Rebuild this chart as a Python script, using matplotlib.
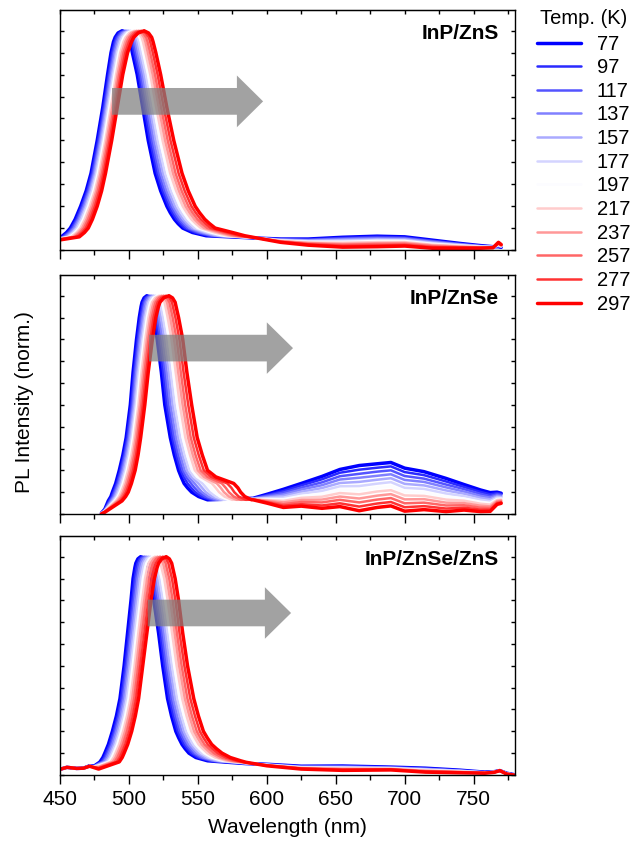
import matplotlib.pyplot as plt
from matplotlib.patches import FancyArrow
from matplotlib.ticker import MultipleLocator

plt.rcParams['font.family'] = 'Liberation Sans'

temps = [77, 97, 117, 137, 157, 177, 197, 217, 237, 257, 277, 297]

# normalised intensity at which the edge wavelengths below were taken
rise_levels = [0.06, 0.08, 0.1, 0.14, 0.2, 0.27, 0.35, 0.5, 0.65, 0.8, 0.9, 0.95, 0.97, 0.99]
fall_levels = [0.99, 0.97, 0.95, 0.9, 0.8, 0.65, 0.5, 0.35, 0.27, 0.2, 0.17, 0.14, 0.12, 0.1, 0.08, 0.065]

# ---------- InP/ZnS ----------
zns_start_nm = [450]
zns_start = [[0.058, 0.056, 0.055, 0.054, 0.053, 0.052, 0.051, 0.05, 0.049, 0.048, 0.047, 0.046]]
# one row per temperature: rising edge, peak, falling edge (nm)
zns_edges = [
    [451, 454.8, 457.5, 461, 465, 469, 472.5, 477, 481, 484.5, 487, 488.8, 490, 492.1, 495, 497.9, 500, 501, 502.5, 506, 510, 514, 519, 523, 527.5, 530, 533, 535.7, 539, 546, 556],
    [451.9, 455.7, 458.4, 461.9, 465.8, 469.8, 473.2, 477.7, 481.7, 485.3, 487.8, 489.7, 490.9, 493.1, 496.1, 499.1, 501.2, 502.2, 503.7, 507.2, 511.2, 515.3, 520.4, 524.4, 528.9, 531.5, 534.5, 537.3, 540.6, 548, 558],
    [452.8, 456.6, 459.3, 462.8, 466.7, 470.6, 474, 478.5, 482.5, 486, 488.7, 490.6, 491.9, 494.1, 497.2, 500.2, 502.3, 503.3, 504.9, 508.4, 512.5, 516.6, 521.7, 525.8, 530.4, 533, 536.1, 538.9, 542.3, 550.1, 559.9],
    [453.7, 457.5, 460.2, 463.6, 467.5, 471.4, 474.7, 479.2, 483.2, 486.8, 489.5, 491.5, 492.8, 495.2, 498.4, 501.4, 503.5, 504.5, 506.1, 509.6, 513.7, 517.9, 523.1, 527.2, 531.8, 534.5, 537.6, 540.5, 543.9, 552.1, 561.9],
    [454.8, 458.6, 461.3, 464.6, 468.5, 472.2, 475.5, 480, 484, 487.7, 490.5, 492.6, 493.9, 496.3, 499.6, 502.6, 504.8, 505.8, 507.4, 510.9, 515.1, 519.4, 524.7, 528.8, 533.4, 536.1, 539.4, 542.3, 545.8, 554.4, 564.1],
    [455.8, 459.6, 462.3, 465.6, 469.4, 473.1, 476.4, 480.9, 484.9, 488.6, 491.4, 493.6, 495, 497.5, 500.9, 503.9, 506.1, 507.1, 508.8, 512.3, 516.5, 520.8, 526.2, 530.4, 535.1, 537.8, 541.1, 544.1, 547.7, 556.7, 566.4],
    [457, 460.8, 463.5, 466.8, 470.5, 474.2, 477.3, 481.8, 485.8, 489.6, 492.5, 494.8, 496.2, 498.8, 502.4, 505.4, 507.6, 508.6, 510.3, 513.8, 518.1, 522.5, 528, 532.2, 536.9, 539.8, 543.1, 546.2, 549.8, 559.3, 568.9],
    [458.3, 462.1, 464.8, 468, 471.7, 475.3, 478.4, 482.9, 486.9, 490.7, 493.7, 496.1, 497.6, 500.3, 504, 507, 509.2, 510.2, 512, 515.5, 519.8, 524.4, 529.9, 534.2, 539, 541.9, 545.3, 548.5, 552.2, 562.2, 571.7],
    [459.6, 463.4, 466.1, 469.3, 472.9, 476.4, 479.4, 483.9, 487.9, 491.8, 494.9, 497.4, 498.9, 501.7, 505.6, 508.7, 510.9, 511.9, 513.7, 517.2, 521.6, 526.2, 531.9, 536.2, 541, 544, 547.5, 550.7, 554.5, 565.1, 574.5],
    [460.9, 464.7, 467.4, 470.5, 474.1, 477.5, 480.5, 485, 489, 492.9, 496.1, 498.7, 500.3, 503.2, 507.2, 510.3, 512.5, 513.5, 515.4, 518.9, 523.3, 528.1, 533.8, 538.2, 543.1, 546.1, 549.7, 553, 556.9, 568, 577.3],
    [462.3, 466.1, 468.8, 471.9, 475.4, 478.7, 481.6, 486.1, 490.1, 494.1, 497.4, 500.1, 501.7, 504.7, 508.9, 512.1, 514.4, 515.4, 517.3, 520.8, 525.2, 530.1, 536, 540.4, 545.3, 548.4, 552.1, 555.5, 559.4, 571.2, 580.4],
    [464, 467.8, 470.5, 473.5, 477, 480.2, 483, 487.5, 491.5, 495.5, 499, 501.9, 503.5, 506.7, 511, 514.2, 516.5, 517.5, 519.5, 523, 527.5, 532.5, 538.5, 543, 548, 551.2, 555, 558.5, 562.5, 575, 584],
]
zns_tail_nm = [590, 610, 630, 655, 680, 700, 720, 740, 755, 764, 768, 770]
# one row per tail wavelength, 77 K ... 297 K
zns_tail = [
    [0.055, 0.055, 0.055, 0.056, 0.056, 0.056, 0.056, 0.057, 0.057, 0.057, 0.058, 0.058],
    [0.05, 0.049, 0.048, 0.047, 0.046, 0.044, 0.043, 0.042, 0.04, 0.039, 0.037, 0.035],
    [0.05, 0.048, 0.046, 0.044, 0.042, 0.04, 0.037, 0.034, 0.032, 0.029, 0.026, 0.022],
    [0.058, 0.055, 0.052, 0.049, 0.045, 0.041, 0.037, 0.033, 0.028, 0.024, 0.019, 0.013],
    [0.063, 0.06, 0.056, 0.053, 0.049, 0.045, 0.041, 0.036, 0.031, 0.027, 0.021, 0.015],
    [0.06, 0.057, 0.054, 0.051, 0.048, 0.044, 0.041, 0.036, 0.032, 0.028, 0.023, 0.018],
    [0.045, 0.042, 0.04, 0.037, 0.034, 0.031, 0.028, 0.024, 0.021, 0.017, 0.013, 0.008],
    [0.03, 0.028, 0.027, 0.025, 0.024, 0.022, 0.02, 0.018, 0.015, 0.013, 0.011, 0.008],
    [0.02, 0.019, 0.018, 0.017, 0.017, 0.016, 0.014, 0.013, 0.012, 0.011, 0.01, 0.008],
    [0.015, 0.015, 0.014, 0.014, 0.014, 0.013, 0.013, 0.012, 0.012, 0.011, 0.011, 0.01],
    [0.015, 0.016, 0.018, 0.019, 0.021, 0.022, 0.024, 0.026, 0.028, 0.03, 0.032, 0.035],
    [0.012, 0.013, 0.014, 0.015, 0.016, 0.017, 0.018, 0.019, 0.021, 0.022, 0.023, 0.025],
]

# ---------- InP/ZnSe ----------
znse_start_nm = [480, 482.5]
znse_start = [
    [0.004, 0.004, 0.003, 0.003, 0.003, 0.002, 0.002, 0.002, 0.001, 0.001, 0.0, 0.0],
    [0.022, 0.02, 0.019, 0.017, 0.016, 0.014, 0.013, 0.012, 0.011, 0.01, 0.009, 0.008],
]
znse_edges = [
    [485, 486.9, 488, 490.4, 493, 495.6, 498, 501, 503, 505.5, 507.5, 508.8, 509.5, 511, 513, 514.7, 516, 516.6, 518, 520.5, 523.5, 526, 530, 532.9, 536, 537.9, 540, 542.5, 545.5, 550.5, 557],
    [485.7, 487.6, 488.8, 491.2, 493.8, 496.4, 498.7, 501.7, 503.8, 506.3, 508.3, 509.7, 510.4, 512, 514.1, 515.9, 517.2, 517.8, 519.3, 521.8, 524.8, 527.4, 531.4, 534.3, 537.5, 539.7, 542.5, 545.1, 548, 552.8, 559.2],
    [486.4, 488.4, 489.6, 492, 494.6, 497.1, 499.5, 502.5, 504.5, 507.1, 509.2, 510.6, 511.3, 512.9, 515.2, 517.1, 518.5, 519.1, 520.5, 523.1, 526.1, 528.7, 532.7, 535.7, 538.9, 541.4, 545, 547.6, 550.5, 555.2, 561.5],
    [487.1, 489.1, 490.4, 492.8, 495.4, 497.9, 500.2, 503.2, 505.3, 507.9, 510, 511.4, 512.2, 514, 516.4, 518.3, 519.7, 520.3, 521.8, 524.4, 527.4, 530.1, 534.1, 537.2, 540.4, 543.2, 547.6, 550.2, 553, 557.5, 563.7],
    [487.9, 490, 491.3, 493.7, 496.3, 498.8, 501, 504, 506.2, 508.8, 511, 512.5, 513.3, 515.1, 517.6, 519.6, 521.1, 521.7, 523.2, 525.9, 528.9, 531.7, 535.7, 538.8, 542.1, 545.2, 550.4, 553.1, 555.8, 560.2, 566.3],
    [488.7, 490.9, 492.3, 494.6, 497.3, 499.7, 501.9, 504.9, 507.1, 509.8, 511.9, 513.5, 514.3, 516.2, 518.9, 521, 522.5, 523.1, 524.7, 527.3, 530.3, 533.2, 537.2, 540.4, 543.8, 547.2, 553.3, 556, 558.6, 562.9, 568.8],
    [489.6, 491.8, 493.3, 495.6, 498.3, 500.7, 502.8, 505.8, 508.1, 510.8, 513, 514.6, 515.5, 517.6, 520.4, 522.5, 524.1, 524.7, 526.3, 529, 532, 535, 539, 542.2, 545.7, 549.4, 556.6, 559.3, 561.8, 565.9, 571.7],
    [490.6, 492.9, 494.4, 496.8, 499.4, 501.8, 503.9, 506.9, 509.2, 511.9, 514.2, 515.9, 516.8, 519, 522, 524.2, 525.8, 526.5, 528.1, 530.9, 533.9, 536.9, 540.9, 544.3, 547.8, 552, 560.2, 562.9, 565.4, 569.3, 574.9],
    [491.6, 494, 495.6, 497.9, 500.6, 502.9, 504.9, 507.9, 510.3, 513.1, 515.4, 517.1, 518.1, 520.4, 523.6, 525.9, 527.6, 528.2, 529.9, 532.7, 535.7, 538.9, 542.9, 546.3, 549.9, 554.5, 563.8, 566.6, 568.9, 572.6, 578.1],
    [492.6, 495, 496.7, 499.1, 501.7, 504, 506, 509, 511.4, 514.2, 516.6, 518.4, 519.4, 521.8, 525.2, 527.6, 529.3, 530, 531.7, 534.6, 537.6, 540.8, 544.8, 548.3, 552, 557, 567.4, 570.2, 572.5, 576, 581.3],
    [493.7, 496.2, 498, 500.3, 503, 505.2, 507.1, 510.1, 512.6, 515.5, 517.9, 519.8, 520.8, 523.4, 526.9, 529.4, 531.2, 531.9, 533.7, 536.6, 539.6, 543, 547, 550.6, 554.3, 559.7, 571.3, 574.3, 576.4, 579.6, 584.8],
    [495, 497.6, 499.5, 501.8, 504.5, 506.6, 508.5, 511.5, 514, 517, 519.5, 521.4, 522.5, 525.2, 529, 531.6, 533.5, 534.2, 536, 539, 542, 545.5, 549.5, 553.2, 557, 563, 576, 579, 581, 584, 589],
]
znse_tail_nm = [590, 600, 612, 625, 640, 653, 667, 680, 690, 700, 714, 730, 743, 755, 762, 767, 770]
znse_tail = [
    [0.072, 0.071, 0.071, 0.07, 0.069, 0.069, 0.068, 0.068, 0.067, 0.066, 0.066, 0.065],
    [0.09, 0.086, 0.083, 0.079, 0.075, 0.072, 0.068, 0.064, 0.061, 0.057, 0.054, 0.05],
    [0.113, 0.105, 0.098, 0.09, 0.083, 0.075, 0.068, 0.06, 0.053, 0.045, 0.038, 0.03],
    [0.14, 0.131, 0.121, 0.112, 0.102, 0.093, 0.083, 0.074, 0.064, 0.055, 0.045, 0.036],
    [0.172, 0.159, 0.145, 0.132, 0.119, 0.106, 0.092, 0.079, 0.066, 0.053, 0.039, 0.026],
    [0.204, 0.189, 0.173, 0.158, 0.142, 0.127, 0.111, 0.096, 0.08, 0.065, 0.049, 0.034],
    [0.222, 0.203, 0.184, 0.166, 0.147, 0.128, 0.109, 0.09, 0.071, 0.053, 0.034, 0.015],
    [0.23, 0.212, 0.194, 0.175, 0.157, 0.139, 0.121, 0.103, 0.084, 0.066, 0.048, 0.03],
    [0.236, 0.218, 0.2, 0.182, 0.164, 0.146, 0.127, 0.109, 0.091, 0.073, 0.055, 0.037],
    [0.21, 0.192, 0.174, 0.156, 0.138, 0.12, 0.103, 0.085, 0.067, 0.049, 0.031, 0.013],
    [0.194, 0.178, 0.162, 0.147, 0.131, 0.115, 0.099, 0.083, 0.068, 0.052, 0.036, 0.02],
    [0.163, 0.149, 0.135, 0.122, 0.108, 0.094, 0.08, 0.066, 0.052, 0.039, 0.025, 0.011],
    [0.135, 0.124, 0.114, 0.103, 0.093, 0.082, 0.071, 0.061, 0.05, 0.04, 0.029, 0.018],
    [0.11, 0.101, 0.092, 0.083, 0.074, 0.065, 0.056, 0.047, 0.038, 0.029, 0.02, 0.011],
    [0.098, 0.09, 0.082, 0.075, 0.067, 0.059, 0.051, 0.043, 0.035, 0.028, 0.02, 0.012],
    [0.1, 0.095, 0.09, 0.085, 0.08, 0.075, 0.069, 0.064, 0.059, 0.054, 0.049, 0.044],
    [0.095, 0.091, 0.087, 0.082, 0.078, 0.074, 0.07, 0.066, 0.062, 0.057, 0.053, 0.049],
]

# ---------- InP/ZnSe/ZnS ----------
znsezns_start_nm = [450, 455, 462, 467, 471.5, 475, 478]
znsezns_start = [
    [0.026] * 12,
    [0.035] * 12,
    [0.03] * 12,
    [0.031] * 12,
    [0.042, 0.042, 0.042, 0.041, 0.041, 0.041, 0.041, 0.041, 0.041, 0.04, 0.04, 0.04],
    [0.042, 0.041, 0.041, 0.04, 0.039, 0.039, 0.038, 0.037, 0.036, 0.035, 0.034, 0.033],
    [0.055, 0.053, 0.051, 0.049, 0.047, 0.045, 0.042, 0.039, 0.037, 0.034, 0.031, 0.027],
]
znsezns_edges = [
    [479, 481.1, 482.5, 485.1, 488, 490.9, 493.5, 496.5, 499, 501.5, 503, 504.3, 505, 506.5, 508.5, 510.8, 512.5, 513.4, 515.5, 518, 521.5, 524.5, 528, 530.9, 534, 536.1, 538.5, 540.8, 543.5, 548.5, 557],
    [480, 482.1, 483.5, 486.1, 489, 491.9, 494.4, 497.4, 500, 502.5, 504.1, 505.4, 506.2, 507.7, 509.8, 512.1, 513.8, 514.7, 516.8, 519.3, 522.7, 525.8, 529.3, 532.3, 535.4, 537.5, 540, 542.4, 545.2, 550.3, 558.7],
    [481, 483.1, 484.5, 487.1, 490, 492.8, 495.4, 498.4, 501, 503.5, 505.2, 506.6, 507.3, 508.9, 511.1, 513.4, 515.1, 516, 518, 520.5, 524, 527, 530.7, 533.6, 536.8, 539, 541.5, 544, 546.9, 552, 560.4],
    [481.9, 484, 485.4, 488, 490.9, 493.8, 496.3, 499.3, 501.9, 504.5, 506.3, 507.7, 508.5, 510.1, 512.4, 514.7, 516.4, 517.2, 519.3, 521.8, 525.2, 528.3, 532, 535, 538.2, 540.4, 543, 545.6, 548.5, 553.8, 562],
    [483.1, 485.2, 486.6, 489.2, 492.1, 494.9, 497.4, 500.4, 503.1, 505.7, 507.5, 509, 509.8, 511.5, 513.9, 516.2, 517.9, 518.7, 520.7, 523.2, 526.6, 529.7, 533.5, 536.6, 539.8, 542.1, 544.7, 547.4, 550.5, 555.8, 564],
    [484.2, 486.3, 487.7, 490.3, 493.2, 496, 498.5, 501.5, 504.2, 506.9, 508.7, 510.3, 511.1, 512.9, 515.3, 517.6, 519.3, 520.2, 522.2, 524.7, 528, 531.2, 535, 538.1, 541.4, 543.8, 546.5, 549.2, 552.4, 557.8, 565.9],
    [485.4, 487.5, 488.9, 491.5, 494.4, 497.2, 499.7, 502.7, 505.4, 508.2, 510.1, 511.7, 512.6, 514.5, 517, 519.3, 521, 521.8, 523.8, 526.3, 529.6, 532.8, 536.7, 539.9, 543.2, 545.6, 548.4, 551.2, 554.5, 560, 568],
    [486.8, 488.9, 490.3, 492.9, 495.8, 498.6, 501.1, 504.1, 506.8, 509.6, 511.7, 513.3, 514.2, 516.2, 518.9, 521.2, 522.9, 523.6, 525.6, 528.1, 531.3, 534.6, 538.6, 541.8, 545.2, 547.7, 550.5, 553.5, 556.9, 562.5, 570.4],
    [488.2, 490.3, 491.7, 494.3, 497.2, 499.9, 502.4, 505.4, 508.2, 511.1, 513.2, 514.9, 515.9, 517.9, 520.7, 523, 524.7, 525.5, 527.4, 529.9, 533.1, 536.4, 540.5, 543.8, 547.2, 549.8, 552.7, 555.8, 559.3, 565, 572.8],
    [489.6, 491.7, 493.1, 495.7, 498.6, 501.3, 503.8, 506.8, 509.6, 512.5, 514.8, 516.5, 517.5, 519.6, 522.6, 524.9, 526.6, 527.3, 529.2, 531.7, 534.8, 538.2, 542.4, 545.7, 549.2, 551.8, 554.8, 558.1, 561.7, 567.5, 575.2],
    [491.2, 493.3, 494.7, 497.3, 500.2, 502.8, 505.2, 508.2, 511.2, 514.1, 516.5, 518.3, 519.4, 521.6, 524.6, 526.9, 528.6, 529.3, 531.2, 533.7, 536.7, 540.2, 544.5, 547.9, 551.4, 554.1, 557.2, 560.5, 564.4, 570.3, 577.9],
    [493, 495.1, 496.5, 499.1, 502, 504.6, 507, 510, 513, 516, 518.5, 520.4, 521.5, 523.8, 527, 529.3, 531, 531.7, 533.5, 536, 539, 542.5, 547, 550.4, 554, 556.8, 560, 563.5, 567.5, 573.5, 581],
]
znsezns_tail_nm = [585, 600, 625, 655, 690, 715, 740, 758, 765, 769, 774, 779]
znsezns_tail = [
    [0.052, 0.052, 0.053, 0.053, 0.054, 0.054, 0.055, 0.055, 0.056, 0.057, 0.057, 0.058],
    [0.049, 0.049, 0.048, 0.048, 0.047, 0.046, 0.046, 0.045, 0.044, 0.044, 0.043, 0.042],
    [0.04, 0.039, 0.038, 0.037, 0.036, 0.035, 0.034, 0.033, 0.031, 0.03, 0.029, 0.027],
    [0.041, 0.04, 0.038, 0.037, 0.035, 0.034, 0.032, 0.03, 0.028, 0.026, 0.024, 0.021],
    [0.036, 0.035, 0.034, 0.033, 0.032, 0.031, 0.03, 0.029, 0.027, 0.026, 0.025, 0.023],
    [0.031, 0.03, 0.028, 0.027, 0.026, 0.024, 0.023, 0.021, 0.019, 0.017, 0.015, 0.013],
    [0.022, 0.021, 0.02, 0.019, 0.019, 0.018, 0.016, 0.015, 0.014, 0.013, 0.012, 0.01],
    [0.013, 0.013, 0.012, 0.012, 0.012, 0.011, 0.011, 0.01, 0.01, 0.009, 0.009, 0.008],
    [0.015, 0.015, 0.015, 0.014, 0.014, 0.014, 0.014, 0.013, 0.013, 0.013, 0.012, 0.012],
    [0.02] * 12,
    [0.008, 0.008, 0.007, 0.007, 0.007, 0.007, 0.006, 0.006, 0.005, 0.005, 0.005, 0.004],
    [0.002, 0.002, 0.002, 0.002, 0.001, 0.001, 0.001, 0.001, 0.001, 0.0, 0.0, 0.0],
]

samples = ['InP/ZnS', 'InP/ZnSe', 'InP/ZnSe/ZnS']
panels = [
    (zns_start_nm, zns_start, zns_edges, zns_tail_nm, zns_tail),
    (znse_start_nm, znse_start, znse_edges, znse_tail_nm, znse_tail),
    (znsezns_start_nm, znsezns_start, znsezns_edges, znsezns_tail_nm, znsezns_tail),
]
# red-shift arrows: start, tip (nm), centre height
arrows = [(487.7, 597.3, 0.678), (514.6, 619.0, 0.760), (513.6, 617.6, 0.742)]


def spectrum(start_nm, start, edges, tail_nm, tail, i):
    x = start_nm + edges[i] + tail_nm
    y = [c[i] for c in start] + rise_levels + [1.0] + fall_levels + [c[i] for c in tail]
    return x, y


cmap = plt.get_cmap('bwr')
pos = [0.5 * i / 6 if i < 6 else (0.495 if i == 6 else 0.5 + 0.5 * (i - 6) / 5) for i in range(len(temps))]
colors = [cmap(p) for p in pos]
widths = [2.5] + [1.8] * (len(temps) - 2) + [2.5]

fig = plt.figure(figsize=(6.35, 8.44), dpi=100)
boxes = [[0.0945, 0.7038, 0.7165, 0.2844],
         [0.0945, 0.3910, 0.7165, 0.2832],
         [0.0945, 0.0818, 0.7165, 0.2832]]

lines = []
for k, box in enumerate(boxes):
    ax = fig.add_axes(box)
    for i, t in enumerate(temps):
        x, y = spectrum(*panels[k], i)
        ln, = ax.plot(x, y, color=colors[i], lw=widths[i], solid_joinstyle='round',
                      solid_capstyle='round', label=str(t))
        if k == 0:
            lines.append(ln)

    x0, x1, yc = arrows[k]
    ax.add_patch(FancyArrow(x0, yc, x1 - x0, 0, width=0.122, head_width=0.236,
                            head_length=19, length_includes_head=True,
                            color='#7f7f7f', alpha=0.72, lw=0, zorder=5))

    ax.text(0.965, 0.902, samples[k], transform=ax.transAxes, ha='right', va='center',
            fontsize=15, fontweight='bold')

    ax.set_xlim(450, 780)
    ax.set_ylim(0, 1.095)
    ax.xaxis.set_major_locator(MultipleLocator(50))
    ax.xaxis.set_minor_locator(MultipleLocator(25))
    ax.yaxis.set_major_locator(MultipleLocator(0.1))
    ax.tick_params(axis='x', which='major', direction='out', length=6.5, width=1, labelsize=15, pad=4)
    ax.tick_params(axis='x', which='minor', direction='out', length=3.5, width=1)
    ax.tick_params(axis='y', which='major', direction='in', length=3, width=1,
                   left=True, right=True, labelleft=False)
    for s in ax.spines.values():
        s.set_linewidth(1.0)

    top = ax.secondary_xaxis('top')
    top.xaxis.set_major_locator(MultipleLocator(50))
    top.xaxis.set_minor_locator(MultipleLocator(25))
    top.tick_params(which='both', direction='in', length=3, width=1, labeltop=False)

    if k < 2:
        ax.tick_params(axis='x', labelbottom=False)
    else:
        ax.set_xlabel('Wavelength (nm)', fontsize=15, labelpad=7)

fig.text(0.039, 0.524, 'PL Intensity (norm.)', rotation=90, ha='center', va='center', fontsize=15)

fig.text(540 / 635, 1 - 18 / 844, 'Temp. (K)', ha='left', va='center', fontsize=14.5)
fig.legend(handles=lines, labels=[str(t) for t in temps],
           loc='upper left', bbox_to_anchor=(0.845, 0.959), frameon=False,
           fontsize=14.5, handlelength=2.2, handletextpad=0.8,
           labelspacing=0.23, borderpad=0, borderaxespad=0)

fig.savefig('out.png', dpi=100)
